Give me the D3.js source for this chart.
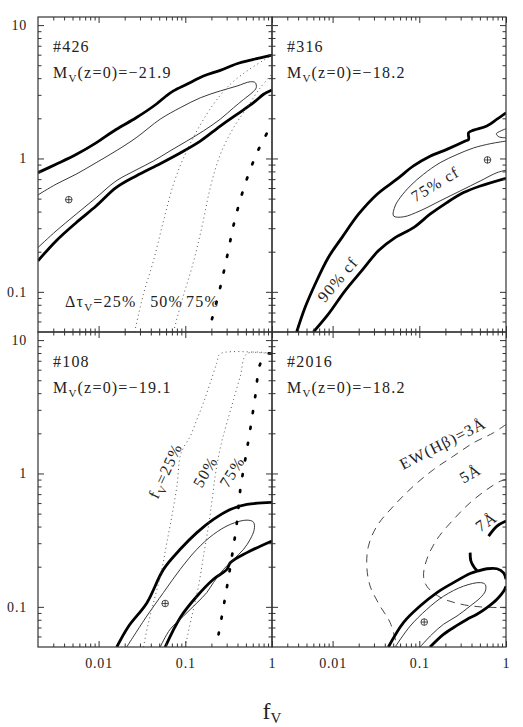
<!DOCTYPE html>
<html>
<head>
<meta charset="utf-8">
<script src="https://d3js.org/d3.v7.min.js"></script>
<style>
  body { margin: 0; background: #fff; }
</style>
</head>
<body>
<svg id="chart" width="523" height="727"></svg>
<script>
// tick values and their labels
const fvTicks = [0.01, 0.1, 1];
const fvLabels = ["0.01", "0.1", "1"];
const yTicks = [0.1, 1, 10];
const yLabels = ["0.1", "1", "10"];

// #426 : [fV, value] pairs
const g426OuterTop = [[0.002,0.783],[0.00323,0.905],[0.0055,1.07],[0.00936,1.31],[0.0159,1.65],[0.0271,2.02],[0.0461,2.55],[0.0601,2.94],[0.073,3.21],[0.104,3.60],[0.162,4.15],[0.253,4.58],[0.394,5.13],[0.612,5.53],[1,5.96]];
const g426OuterBottom = [[0.002,0.171],[0.00323,0.241],[0.0055,0.330],[0.00936,0.440],[0.0159,0.604],[0.0271,0.74],[0.0513,0.914],[0.0873,1.10],[0.149,1.35],[0.253,1.75],[0.394,2.14],[0.612,2.62],[0.80,3.03],[1,3.26]];
const g426Inner = [[0.002,0.533],[0.00323,0.641],[0.0055,0.762],[0.00936,0.93],[0.0159,1.14],[0.0271,1.43],[0.0513,1.97],[0.0873,2.40],[0.149,2.85],[0.253,3.21],[0.394,3.49],[0.561,3.76],[0.641,3.70],[0.658,3.39],[0.588,3.11],[0.47,2.77],[0.36,2.40],[0.253,1.97],[0.162,1.61],[0.104,1.35],[0.0668,1.14],[0.0429,0.958],[0.0271,0.82],[0.0159,0.678],[0.00936,0.508],[0.0055,0.382],[0.00323,0.286],[0.002,0.215]];
const g426Tau25 = [[0.026,0.05],[0.0329,0.0962],[0.0429,0.171],[0.056,0.340],[0.073,0.641],[0.0953,1.01],[0.136,1.61],[0.211,2.55],[0.33,3.60],[0.514,4.52],[0.80,5.45],[1,5.9]];
const g426Tau50 = [[0.073,0.05],[0.0912,0.0857],[0.119,0.152],[0.155,0.303],[0.194,0.604],[0.253,1.07],[0.36,1.70],[0.514,2.40],[0.733,3.39],[1,4.28]];
const g426Tau75 = [[0.203,0.0625],[0.253,0.108],[0.307,0.191],[0.366,0.330],[0.462,0.571],[0.572,0.853],[0.67,1.10],[0.815,1.42],[1,1.82]];
const g426Best = [0.00453, 0.491];

// #316
const g316OuterTop = [[0.00385,0.05],[0.00481,0.0762],[0.00628,0.114],[0.00893,0.181],[0.0128,0.255],[0.0199,0.382],[0.0326,0.540],[0.0551,0.699],[0.0857,0.879],[0.133,1.04],[0.208,1.17],[0.339,1.35],[0.37,1.39],[0.37,1.56],[0.423,1.63],[0.60,1.75],[0.787,1.97],[1,2.20]];
const g316OuterBottom = [[0.006,0.05],[0.00893,0.068],[0.0139,0.1016],[0.0217,0.144],[0.0337,0.203],[0.0526,0.255],[0.0857,0.303],[0.133,0.382],[0.208,0.467],[0.324,0.555],[0.505,0.622],[1,0.711]];
const g316Inner = [[1,0.816],[0.787,0.783],[0.505,0.678],[0.296,0.571],[0.174,0.481],[0.102,0.405],[0.0656,0.365],[0.0504,0.371],[0.0526,0.44],[0.0601,0.508],[0.0785,0.622],[0.112,0.762],[0.174,0.93],[0.272,1.07],[0.423,1.20],[0.658,1.29],[0.86,1.33],[1,1.35]];
const g316InnerSpot = [[1,1.67],[0.773,1.53],[0.836,1.45],[1,1.43]];
const g316Best = [0.612, 0.975];

// #108
const g108OuterTop = [[0.0162,0.05],[0.022,0.071],[0.036,0.107],[0.056,0.191],[0.0873,0.27],[0.136,0.36],[0.211,0.452],[0.33,0.537],[0.514,0.586],[1,0.607]];
const g108OuterBottom = [[0.0586,0.05],[0.0873,0.083],[0.136,0.12],[0.211,0.161],[0.302,0.191],[0.33,0.214],[0.514,0.255],[1,0.312]];
const g108Inner = [[0.0211,0.05],[0.036,0.0853],[0.056,0.128],[0.0873,0.191],[0.136,0.27],[0.211,0.349],[0.33,0.415],[0.514,0.447],[0.612,0.431],[0.624,0.381],[0.561,0.321],[0.47,0.27],[0.36,0.227],[0.276,0.191],[0.211,0.152],[0.177,0.128],[0.136,0.107],[0.0953,0.0853],[0.0668,0.0678],[0.0513,0.05]];
const g108F25 = [[0.0329,0.05],[0.0376,0.0762],[0.0449,0.12],[0.0536,0.191],[0.0612,0.303],[0.07,0.479],[0.08,0.804],[0.0873,1.35],[0.0953,1.56],[0.114,1.90],[0.136,2.54],[0.162,3.39],[0.194,4.78],[0.231,6.75],[0.253,7.9],[1,7.9]];
const g108F50 = [[0.0995,0.05],[0.119,0.0853],[0.142,0.143],[0.162,0.24],[0.185,0.403],[0.204,0.638],[0.221,0.955],[0.242,1.35],[0.267,1.80],[0.302,2.40],[0.36,3.58],[0.431,5.36],[0.514,7.9],[1,7.9]];
const g108F75 = [[0.242,0.0622],[0.281,0.107],[0.336,0.214],[0.394,0.431],[0.431,0.759],[0.491,1.27],[0.561,2.14],[0.641,3.79],[0.733,6.67],[0.875,7.9],[1,7.9]];
const g108Best = [0.0586, 0.106];

// #2016
const g2016OuterTop = [[0.044,0.05],[0.0656,0.0762],[0.102,0.1014],[0.16,0.128],[0.248,0.152],[0.386,0.178],[0.462,0.185],[0.603,0.193],[0.787,0.193],[0.938,0.18],[1,0.161]];
const g2016OuterBottom = [[0.133,0.05],[0.19,0.0622],[0.272,0.0726],[0.354,0.0805],[0.462,0.0879],[0.603,0.0986],[0.787,0.114],[0.938,0.131],[1,0.143]];
const g2016Hook = [[0.386,0.255],[0.394,0.22],[0.431,0.197],[0.47,0.185]];
const g2016Edge = [[0.63,0.339],[0.787,0.403],[1,0.44]];
const g2016Inner = [[0.0526,0.05],[0.0785,0.0718],[0.122,0.0957],[0.19,0.12],[0.324,0.143],[0.505,0.152],[0.577,0.147],[0.577,0.131],[0.505,0.117],[0.386,0.1014],[0.272,0.0853],[0.19,0.074],[0.14,0.0622],[0.102,0.05]];
const g2016Ew3 = [[1,2.33],[0.718,2.02],[0.423,1.70],[0.248,1.35],[0.146,1.07],[0.0857,0.804],[0.0504,0.569],[0.0324,0.403],[0.0259,0.285],[0.0248,0.202],[0.0271,0.143],[0.0353,0.1014],[0.0461,0.0762],[0.0555,0.05]];
const g2016Ew5 = [[1,0.902],[0.86,0.875],[0.603,0.759],[0.386,0.604],[0.248,0.452],[0.16,0.321],[0.122,0.227],[0.112,0.17],[0.122,0.143],[0.174,0.118],[0.296,0.105],[0.505,0.1],[1,0.0986]];
const g2016Best = [0.114, 0.0769];

const FONT = "'Liberation Serif', 'Times New Roman', serif";
const svg = d3.select("#chart")
  .attr("font-family", FONT);

const colX = [[38, 272], [272, 506]];
const rowY = [[332, 17], [647, 332]];

const styles = {
  thick:  {w: 2.8, c: "#000", dash: null},
  thin:   {w: 0.9, c: "#222", dash: null},
  dot:    {w: 1.0, c: "#555", dash: "1,3.2"},
  bigdot: {w: 2.7, c: "#000", dash: "2,14", cap: "round"},
  dash:   {w: 0.9, c: "#333", dash: "8,6"}
};

const panels = [
  {id: "426", col: 0, row: 0, mag: "−21.9", best: g426Best,
   curves: [["thick", g426OuterTop], ["thick", g426OuterBottom], ["thin", g426Inner],
            ["dot", g426Tau25], ["dot", g426Tau50], ["bigdot", g426Tau75]]},
  {id: "316", col: 1, row: 0, mag: "−18.2", best: g316Best,
   curves: [["thick", g316OuterTop], ["thick", g316OuterBottom], ["thin", g316Inner], ["thin", g316InnerSpot]]},
  {id: "108", col: 0, row: 1, mag: "−19.1", best: g108Best,
   curves: [["thick", g108OuterTop], ["thick", g108OuterBottom], ["thin", g108Inner],
            ["dot", g108F25], ["dot", g108F50], ["bigdot", g108F75]]},
  {id: "2016", col: 1, row: 1, mag: "−18.2", best: g2016Best,
   curves: [["dash", g2016Ew3], ["dash", g2016Ew5],
            ["thick", g2016OuterTop], ["thick", g2016OuterBottom], ["thick", g2016Hook], ["thick", g2016Edge],
            ["thin", g2016Inner]]}
];

function minorTicks(lo, hi) {
  const t = [];
  for (let e = -4; e <= 2; e++) {
    for (let m = 2; m <= 9; m++) {
      const v = m * Math.pow(10, e);
      if (v > lo * 1.001 && v < hi * 0.999) t.push(v);
    }
  }
  return t;
}

function label(sel) {
  return sel.append("text")
    .attr("font-family", FONT)
    .attr("font-size", 16)
    .attr("letter-spacing", 1.2)
    .attr("fill", "#222");
}

panels.forEach(p => {
  const x = d3.scaleLog().domain([0.002, 1]).range(colX[p.col]);
  const y = d3.scaleLog().domain([0.05, 11.5]).range(rowY[p.row]);
  const [x0, x1] = x.range();
  const [y0, y1] = y.range();
  const g = svg.append("g");

  const clipId = "clip" + p.id;
  g.append("clipPath").attr("id", clipId)
    .append("rect").attr("x", x0).attr("y", y1).attr("width", x1 - x0).attr("height", y0 - y1);

  const plot = g.append("g").attr("clip-path", `url(#${clipId})`);
  const line = d3.line().x(d => x(d[0])).y(d => y(d[1])).curve(d3.curveCatmullRom.alpha(0.5));

  p.curves.forEach(([kind, pts]) => {
    const s = styles[kind];
    plot.append("path")
      .attr("d", line(pts))
      .attr("fill", "none")
      .attr("stroke", s.c)
      .attr("stroke-width", s.w)
      .attr("stroke-linecap", s.cap || "butt")
      .attr("stroke-linejoin", "round")
      .attr("stroke-dasharray", s.dash);
  });

  // best fit marker
  const bx = x(p.best[0]), by = y(p.best[1]);
  plot.append("circle").attr("cx", bx).attr("cy", by).attr("r", 3.3)
    .attr("fill", "none").attr("stroke", "#222").attr("stroke-width", 0.8);
  plot.append("path").attr("d", `M${bx - 3.3},${by}H${bx + 3.3}M${bx},${by - 3.3}V${by + 3.3}`)
    .attr("stroke", "#222").attr("stroke-width", 0.8);

  // ticks on all four sides, pointing inward
  const xMinor = minorTicks(0.002, 1), yMinor = minorTicks(0.05, 11.5);
  const showX = p.row === 1, showY = p.col === 0;
  const axes = [
    [d3.axisBottom(x), `translate(0,${y0})`, xMinor, fvTicks, showX ? (d, i) => fvLabels[i] : ""],
    [d3.axisTop(x), `translate(0,${y1})`, xMinor, fvTicks, ""],
    [d3.axisLeft(y), `translate(${x0},0)`, yMinor, yTicks, showY ? (d, i) => yLabels[i] : ""],
    [d3.axisRight(y), `translate(${x1},0)`, yMinor, yTicks, ""]
  ];
  axes.forEach(([ax, tr, minor, major, fmt]) => {
    g.append("g").attr("transform", tr)
      .call(ax.tickValues(minor).tickSize(-3.5).tickFormat(""))
      .call(a => a.select(".domain").remove())
      .call(a => a.selectAll("line").attr("stroke", "#333"));
    g.append("g").attr("transform", tr)
      .call(ax.tickValues(major).tickSize(-6).tickPadding(11).tickFormat(fmt))
      .attr("font-family", FONT)
      .attr("font-size", 14)
      .call(a => a.select(".domain").remove())
      .call(a => a.selectAll("line").attr("stroke", "#333"))
      .call(a => a.selectAll("text").attr("fill", "#222").attr("letter-spacing", 0.8));
  });

  g.append("rect").attr("x", x0).attr("y", y1).attr("width", x1 - x0).attr("height", y0 - y1)
    .attr("fill", "none").attr("stroke", "#333").attr("stroke-width", 1.2);

  // panel header
  label(g).attr("x", x0 + 15).attr("y", y1 + 35).text("#" + p.id);
  const t2 = label(g).attr("x", x0 + 15).attr("y", y1 + 61);
  t2.append("tspan").text("M");
  t2.append("tspan").attr("dy", 4).attr("font-size", 11).text("V");
  t2.append("tspan").attr("dy", -4).text("(z=0)=" + p.mag);

  p.x = x; p.y = y; p.g = g;
});

// curve annotations, anchored in data units
function note(p, fx, fy, angle, build) {
  const t = label(p.g)
    .attr("text-anchor", "middle")
    .attr("dy", "0.35em")
    .attr("transform", `translate(${p.x(fx)},${p.y(fy)}) rotate(${angle})`);
  build(t);
}
const sub = (t, a, b, c) => {
  t.append("tspan").text(a);
  t.append("tspan").attr("dy", 4).attr("font-size", 11).text(b);
  t.append("tspan").attr("dy", -4).text(c);
};

// #426 bottom row of labels
{
  const p = panels[0];
  sub(label(p.g).attr("x", p.x(0.0041)).attr("y", p.y(0.0773)), "Δτ", "V", "=25%");
  label(p.g).attr("x", p.x(0.0393)).attr("y", p.y(0.0773)).text("50%");
  label(p.g).attr("x", p.x(0.102)).attr("y", p.y(0.0773)).text("75%");
}
note(panels[1], 0.152, 0.644, -31, t => t.text("75% cf"));
note(panels[1], 0.0114, 0.124, -50, t => t.text("90% cf"));
note(panels[2], 0.0586, 1.05, -65, t => sub(t, "f", "V", "=25%"));
note(panels[2], 0.169, 1.03, -60, t => t.text("50%"));
note(panels[2], 0.345, 1.03, -58, t => t.text("75%"));
note(panels[3], 0.186, 1.68, -27, t => t.text("EW(Hβ)=3Å"));
note(panels[3], 0.386, 1.0, -30, t => t.text("5Å"));
note(panels[3], 0.59, 0.436, -35, t => t.text("7Å"));

// x axis title
const xt = svg.append("text").attr("x", 272).attr("y", 719)
  .attr("text-anchor", "middle").attr("font-family", FONT).attr("font-size", 24).attr("fill", "#222");
xt.append("tspan").text("f");
xt.append("tspan").attr("dy", 4).attr("font-size", 15).text("V");
</script>
</body>
</html>
